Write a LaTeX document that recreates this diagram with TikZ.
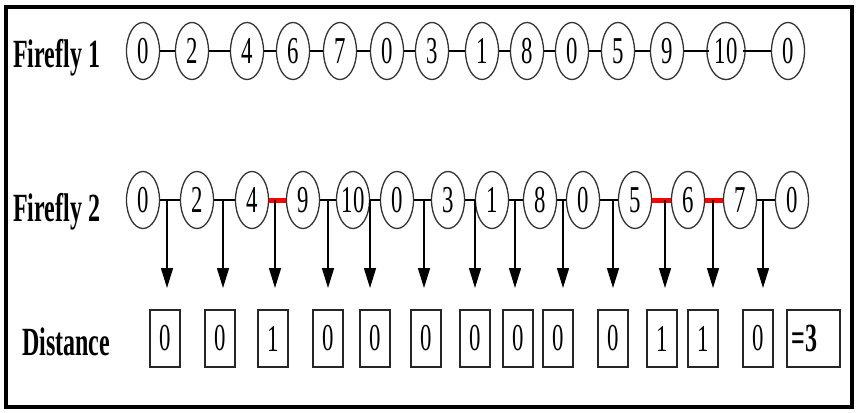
\documentclass[tikz,border=0pt]{standalone}
\usepackage{fontspec}
\usepackage{graphicx}
\setmainfont{Liberation Serif}
\usetikzlibrary{shapes.geometric,arrows.meta}
% narrow (condensed) setting of every text
\newcommand\narrowtxt[1]{\scalebox{0.6}[1]{#1}}
\begin{document}
\begin{tikzpicture}[x=1pt,y=-1pt,
  fly/.style={draw=black!80, line width=1.3pt, ellipse, fill=white,
    minimum width=33pt, minimum height=57pt, inner sep=0pt,
    font=\fontsize{38}{38}\selectfont},
  link/.style={draw=black, line width=1.5pt},
  hot/.style={draw=red, line width=5pt},
  drop/.style={draw=black, line width=1.5pt, -{Triangle[length=20pt,width=12pt]}},
  cell/.style={draw=black!85, line width=1.6pt, rectangle,
    minimum width=30pt, minimum height=57pt, inner sep=0pt,
    font=\fontsize{38}{38}\selectfont},
  lab/.style={font=\fontsize{40}{40}\selectfont\bfseries, inner sep=0pt, anchor=base west}
]
\useasboundingbox (0,0) rectangle (856,412);
\fill[white] (0,0) rectangle (856,412);
\draw[line width=4.5pt] (6,7) rectangle (852,407);

% row labels
\node[lab] (lab1) at (13,67) {\narrowtxt{Firefly 1}};
\node[lab] (lab2) at (13,221) {\narrowtxt{Firefly 2}};
\node[lab] (lab3) at (22,355) {\narrowtxt{Distance}};

% Firefly 1
\foreach \x/\v [count=\i] in {143/0,192/2,247/4,293/6,340/7,387/0,432/3,482/1,527/8,572/0,618/5,667/9,726/10,788/0}
  \node[fly] (a\i) at (\x,51) {\narrowtxt{\v}};
\node[fly, minimum width=38pt] at (a13) {\narrowtxt{10}};
\foreach \i [evaluate=\i as \j using int(\i+1)] in {1,...,13}
  \draw[link] (a\i) -- (a\j);

% Firefly 2
\foreach \x/\v [count=\i] in {143/0,197/2,252/4,303/9,353/10,397/0,448/3,492/1,540/8,583/0,635/5,688/6,740/7,792/0}
  \node[fly] (b\i) at (\x,200) {\narrowtxt{\v}};
\foreach \i/\st [evaluate=\i as \j using int(\i+1)] in {1/link,2/link,3/hot,4/link,5/link,6/link,7/link,8/link,9/link,10/link,11/hot,12/hot,13/link}
  \draw[\st] (b\i) -- (b\j);

% comparison arrows
\foreach \x [count=\i] in {167,223,275,328,370,424,475,515,563,613,665,713,763} {
  \coordinate (s\i) at (\x,200);
  \coordinate (e\i) at (\x,288);
  \draw[drop] (s\i) -- (e\i);
}

% distance cells
\foreach \x/\v [count=\i] in {165/0,220/0,273/1,328/0,375/0,426/0,475/0,518/0,558/0,613/0,662/1,703/1,758/0}
  \node[cell] (d\i) at (\x,338.5) {\narrowtxt{\v}};
\node[cell, minimum width=53pt] (sum) at (813.5,338.5)
  {\makebox[44pt][l]{\fontsize{40}{40}\selectfont\bfseries\narrowtxt{=3}}};
\end{tikzpicture}
\end{document}
